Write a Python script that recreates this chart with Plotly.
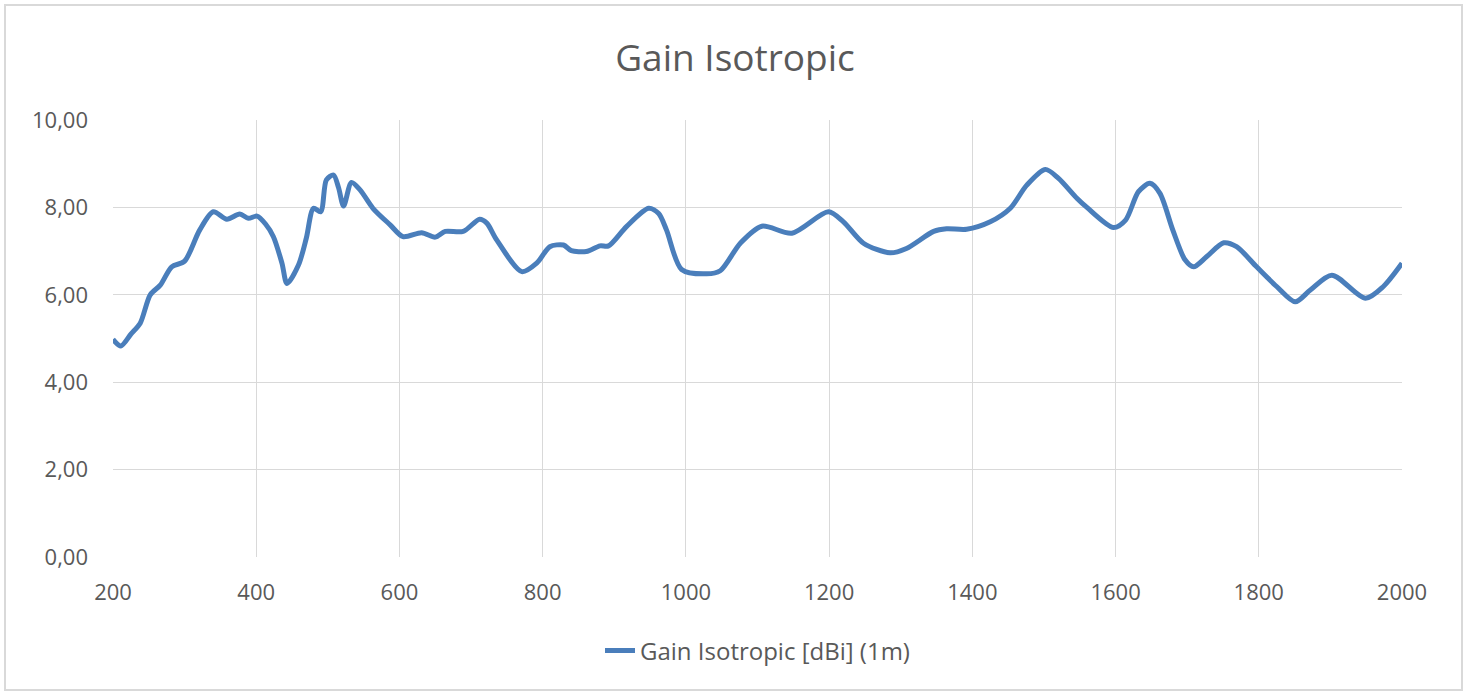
import plotly.graph_objects as go

freq = [200, 211, 225, 238, 252, 266, 282, 300, 321, 340, 359, 377, 389, 401, 413, 424,
        436, 443, 459, 470, 480, 490, 498, 508, 515, 522, 533, 545, 563, 587, 605, 631,
        650, 664, 689, 712, 722, 736, 771, 792, 810, 829, 840, 861, 880, 892, 917, 948,
        962, 973, 994, 1029, 1048, 1076, 1106, 1148, 1199, 1220, 1248, 1285, 1308, 1346,
        1364, 1392, 1425, 1453, 1476, 1502, 1520, 1546, 1560, 1597, 1614, 1632, 1648, 1662,
        1680, 1697, 1709, 1727, 1751, 1769, 1797, 1825, 1851, 1872, 1902, 1949, 1974, 2000]
gain = [4.98, 4.83, 5.10, 5.35, 6.00, 6.22, 6.64, 6.77, 7.48, 7.90, 7.73, 7.85, 7.75, 7.80, 7.62, 7.33,
        6.72, 6.26, 6.68, 7.30, 7.98, 7.90, 8.63, 8.74, 8.45, 8.03, 8.57, 8.40, 7.98, 7.60, 7.33, 7.42,
        7.32, 7.45, 7.45, 7.73, 7.64, 7.25, 6.53, 6.73, 7.10, 7.14, 7.01, 6.99, 7.12, 7.12, 7.56, 7.98,
        7.86, 7.48, 6.58, 6.48, 6.55, 7.18, 7.57, 7.41, 7.90, 7.67, 7.18, 6.96, 7.06, 7.45,
        7.51, 7.50, 7.67, 7.98, 8.51, 8.87, 8.67, 8.21, 8.00, 7.54, 7.71, 8.36, 8.55, 8.32,
        7.48, 6.80, 6.64, 6.87, 7.19, 7.10, 6.64, 6.19, 5.84, 6.11, 6.45, 5.92, 6.19, 6.72]

series_name = "Gain Isotropic [dBi] (1m)"
title_text = "Gain Isotropic"

fig = go.Figure()
fig.add_trace(go.Scatter(
    x=freq, y=gain, mode="lines", name=series_name,
    line=dict(color="#4a7ebb", width=5, shape="spline", smoothing=0.8),
))

grid = "#d9d9d9"
txt = "#595959"
fnt = "Open Sans"

fig.update_layout(
    width=1470, height=693,
    margin=dict(l=113, r=68, t=120, b=136),
    paper_bgcolor="white", plot_bgcolor="white",
    separators=",.",
    title=dict(text=title_text, x=0.5, xanchor="center", y=0.916, yanchor="middle",
               font=dict(family=fnt, size=37, color=txt)),
    font=dict(family=fnt, size=22, color=txt),
    showlegend=True,
    legend=dict(orientation="h", x=0.5, xanchor="center", y=-0.215, yanchor="middle",
                font=dict(family=fnt, size=24, color=txt)),
    xaxis=dict(range=[200, 2000], dtick=200, tick0=200, showgrid=True, gridcolor=grid,
               gridwidth=1, zeroline=False, showline=False, ticks="",
               ticklabelstandoff=20, tickfont=dict(size=22, color=txt)),
    yaxis=dict(range=[0, 10], dtick=2, tick0=0, tickformat=".2f", showgrid=True,
               gridcolor=grid, gridwidth=1, zeroline=False, showline=False, ticks="",
               ticklabelstandoff=24, tickfont=dict(size=22, color=txt)),
)

fig.add_shape(type="rect", xref="paper", yref="paper",
              x0=(5 - 113) / 1289, x1=(1462 - 113) / 1289,
              y0=(557 - 690) / 437, y1=(557 - 5) / 437,
              line=dict(color="#d9d9d9", width=2), layer="below")

fig.write_html("out.html", config={"displayModeBar": False},
               post_script="document.body.style.margin='0';")
